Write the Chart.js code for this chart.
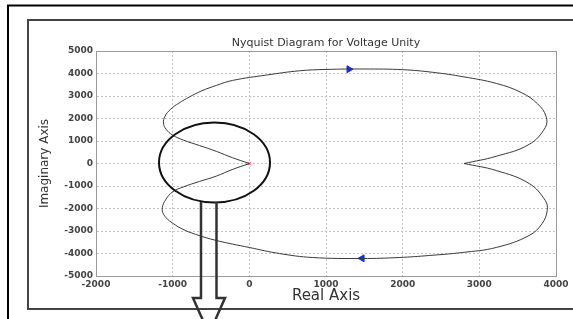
<!DOCTYPE html>
<html>
<head>
<meta charset="utf-8">
<script src="https://cdn.jsdelivr.net/npm/chart.js@4"></script>
<style>
  html, body { margin: 0; padding: 0; background: #fff; }
  canvas { display: block; }
</style>
</head>
<body>
<canvas id="nyquist" width="573" height="319"></canvas>
<script>
// rama superior (de la cúspide en 0 a la cúspide en 2800)
const realSup = [0, -222, -430, -652, -860, -1000, -1085, -1120, -1100, -1030, -920, -780, -620, -430, -222, 222, 652, 1000, 1500, 2000, 2400, 2800, 3220, 3550, 3760, 3870, 3860, 3650, 3220, 2800];
const imagSup = [0, 260, 540, 800, 1040, 1260, 1520, 1800, 2100, 2400, 2680, 2960, 3230, 3470, 3690, 3930, 4120, 4180, 4200, 4170, 4050, 3850, 3560, 3150, 2650, 2100, 1600, 850, 320, 0];

// rama inferior (de 2800 de vuelta a 0)
const realInf = [2800, 3220, 3650, 3860, 3885, 3820, 3650, 3220, 2777, 2347, 1956, 1473, 821, 391, 0, -430, -700, -880, -1040, -1120, -1134, -1090, -1000, -860, -652, -430, -222, 0];
const imagInf = [0, -311, -889, -1644, -2089, -2667, -3200, -3733, -3955, -4089, -4178, -4222, -4178, -4000, -3733, -3422, -3150, -2900, -2550, -2250, -1955, -1600, -1260, -1040, -800, -560, -267, 0];

// flechas de dirección (azules)
const flechaReal = [1300, 1470];
const flechaImag = [4190, -4215];
const flechaGiro = [90, -90];

const ticksX = [-2000, -1000, 0, 1000, 2000, 3000, 4000];
const ticksY = [-5000, -4000, -3000, -2000, -1000, 0, 1000, 2000, 3000, 4000, 5000];

const titulo = "Nyquist Diagram for Voltage Unity";
const tituloX = "Real Axis";
const tituloY = "Imaginary Axis";

function puntos(xs, ys) {
  return xs.map((x, i) => ({ x: x, y: ys[i] }));
}

// marcos, recuadro del gráfico, círculo y flecha hueca
const decoracion = {
  id: 'decoracion',
  beforeDraw(chart) {
    const ctx = chart.ctx;
    ctx.save();
    ctx.fillStyle = '#fff';
    ctx.fillRect(0, 0, chart.width, chart.height);
    ctx.restore();
  },
  afterDraw(chart) {
    const ctx = chart.ctx;
    const a = chart.chartArea;
    ctx.save();

    // marco exterior negro
    ctx.strokeStyle = '#000';
    ctx.lineWidth = 2;
    ctx.beginPath();
    ctx.moveTo(8, 319);
    ctx.lineTo(8, 5.5);
    ctx.lineTo(573, 5.5);
    ctx.stroke();

    // marco de la figura
    ctx.strokeStyle = '#444';
    ctx.lineWidth = 2;
    ctx.beginPath();
    ctx.moveTo(573, 20);
    ctx.lineTo(28, 20);
    ctx.lineTo(28, 309);
    ctx.lineTo(573, 309);
    ctx.stroke();

    // recuadro del área
    ctx.strokeStyle = '#9a9a9a';
    ctx.lineWidth = 1;
    ctx.strokeRect(a.left + 0.5, a.top + 0.5, a.right - a.left, a.bottom - a.top);

    // círculo de detalle
    ctx.strokeStyle = '#111';
    ctx.lineWidth = 2;
    ctx.beginPath();
    ctx.ellipse(214.5, 162.5, 55.5, 40, 0, 0, Math.PI * 2);
    ctx.stroke();

    // flecha hueca hacia abajo
    ctx.strokeStyle = '#333';
    ctx.lineWidth = 2.5;
    ctx.lineJoin = 'miter';
    ctx.beginPath();
    ctx.moveTo(201, 202);
    ctx.lineTo(201, 298);
    ctx.lineTo(193, 298);
    ctx.lineTo(209, 334);
    ctx.lineTo(225, 298);
    ctx.lineTo(216.5, 298);
    ctx.lineTo(216.5, 202);
    ctx.stroke();

    ctx.restore();
  }
};

new Chart(document.getElementById('nyquist'), {
  type: 'scatter',
  data: {
    datasets: [
      {
        data: puntos(realSup, imagSup),
        showLine: true,
        borderColor: '#3a3a3a',
        borderWidth: 1,
        pointRadius: 0,
        tension: 0.4
      },
      {
        data: puntos(realInf, imagInf),
        showLine: true,
        borderColor: '#3a3a3a',
        borderWidth: 1,
        pointRadius: 0,
        tension: 0.4
      },
      {
        data: puntos(flechaReal, flechaImag),
        showLine: false,
        pointStyle: 'triangle',
        rotation: flechaGiro,
        pointRadius: 4,
        backgroundColor: '#1428ff',
        borderColor: '#1428ff',
        borderWidth: 1
      },
      {
        data: [{ x: 0, y: 0 }],
        showLine: false,
        pointStyle: 'crossRot',
        pointRadius: 2,
        borderColor: '#ff5050',
        borderWidth: 1
      }
    ]
  },
  options: {
    responsive: false,
    animation: false,
    layout: { padding: { left: 0, top: 0, right: 17, bottom: 13 } },
    plugins: {
      legend: { display: false },
      tooltip: { enabled: false },
      title: {
        display: true,
        text: titulo,
        fullSize: false,
        color: '#333',
        font: { family: 'DejaVu Sans', size: 11, weight: 'normal', lineHeight: 1.2 },
        padding: { top: 36.4, bottom: 1.4 }
      }
    },
    scales: {
      x: {
        type: 'linear',
        min: -2000,
        max: 4000,
        afterFit: s => { s.height = 30; },
        afterBuildTicks: s => { s.ticks = ticksX.map(v => ({ value: v })); },
        ticks: {
          color: '#444',
          padding: 3,
          maxRotation: 0,
          callback: v => String(v),
          font: { family: 'DejaVu Sans', size: 9, weight: 'bold' }
        },
        grid: { color: '#c4c4c4', drawTicks: false, lineWidth: 1 },
        border: { display: true, color: '#9a9a9a', dash: [2, 2] },
        title: {
          display: true,
          text: tituloX,
          color: '#333',
          font: { family: 'DejaVu Sans', size: 15, lineHeight: 1.2 },
          padding: { top: 0, bottom: 0.5 }
        }
      },
      y: {
        type: 'linear',
        min: -5000,
        max: 5000,
        afterFit: s => { s.width = 96; },
        afterBuildTicks: s => { s.ticks = ticksY.map(v => ({ value: v })); },
        ticks: {
          color: '#444',
          padding: 3,
          callback: v => String(v),
          font: { family: 'DejaVu Sans', size: 9, weight: 'bold' }
        },
        grid: { color: '#c4c4c4', drawTicks: false, lineWidth: 1 },
        border: { display: true, color: '#9a9a9a', dash: [2, 2] },
        title: {
          display: true,
          text: tituloY,
          color: '#333',
          font: { family: 'DejaVu Sans', size: 12, lineHeight: 1.2 },
          padding: { top: 37.8, bottom: 0 }
        }
      }
    }
  },
  plugins: [decoracion]
});
</script>
</body>
</html>
